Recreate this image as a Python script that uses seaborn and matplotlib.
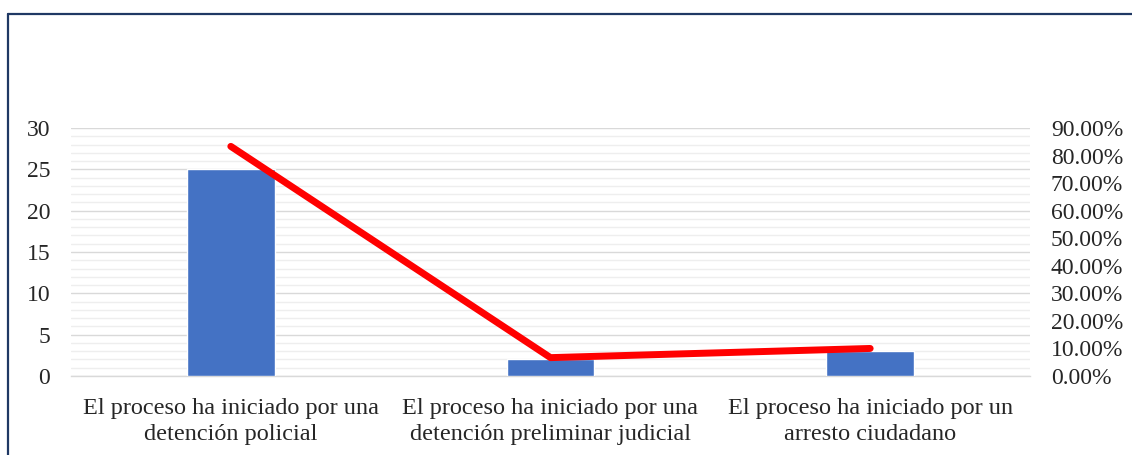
import numpy as np
import pandas as pd
import matplotlib
matplotlib.use("Agg")
import matplotlib.pyplot as plt
import seaborn as sns
from matplotlib.lines import Line2D
from matplotlib.ticker import MultipleLocator, FuncFormatter

categories = [
    "El proceso ha iniciado por una\ndetención policial",
    "El proceso ha iniciado por una\ndetención preliminar judicial",
    "El proceso ha iniciado por un\narresto ciudadano",
]
counts = [25, 2, 3]
percents = [0.8333, 0.0667, 0.10]

left_ticks = [0, 5, 10, 15, 20, 25, 30]
right_ticks = [0.0, 0.1, 0.2, 0.3, 0.4, 0.5, 0.6, 0.7, 0.8, 0.9]


def main():
    sns.set_style("white")
    plt.rcParams["font.family"] = ["Liberation Serif", "DejaVu Serif"]

    df = pd.DataFrame({"cat": categories, "n": counts, "pct": percents})

    fig = plt.figure(figsize=(11.32, 4.55), dpi=100)
    ax = fig.add_axes([0.0627, 0.1736, 0.8472, 0.5451])

    # bars: counts
    sns.barplot(data=df, x="cat", y="n", color="#4472C4", width=0.275,
                saturation=1, ax=ax, zorder=3)
    ax.set_xlim(-0.5, 2.5)
    ax.set_ylim(0, 30)
    ax.set_yticks(left_ticks)
    ax.yaxis.set_minor_locator(MultipleLocator(1))
    ax.grid(which="major", axis="y", color="#d9d9d9", linewidth=1.0, zorder=0)
    ax.grid(which="minor", axis="y", color="#eeeeee", linewidth=1.0, zorder=0)
    ax.set_axisbelow(True)
    ax.set_xlabel("")
    ax.set_ylabel("")
    for s in ["top", "right", "left"]:
        ax.spines[s].set_visible(False)
    ax.spines["bottom"].set_color("#d9d9d9")
    ax.spines["bottom"].set_linewidth(1.0)
    ax.set_xticks([-0.5, 0.5, 1.5, 2.5], minor=True)
    ax.tick_params(axis="x", which="major", length=0, pad=16, labelsize=17.5)
    ax.tick_params(axis="x", which="minor", length=5, color="#d9d9d9", width=1)
    ax.tick_params(axis="y", which="both", length=0, pad=15, labelsize=17)
    for lbl in ax.get_xticklabels():
        lbl.set_linespacing(1.3)

    # line: percentages on secondary axis
    ax2 = ax.twinx()
    sns.lineplot(x=np.arange(len(percents)), y=percents, color="#ff0000",
                 linewidth=5, sort=False, ax=ax2, solid_capstyle="round", zorder=4)
    ax2.set_ylim(0, 0.9)
    ax2.set_yticks(right_ticks)
    ax2.yaxis.set_major_formatter(FuncFormatter(lambda v, p: f"{v * 100:.2f}%"))
    ax2.tick_params(axis="y", length=0, pad=15, labelsize=17)
    ax2.grid(False)
    for s in ax2.spines.values():
        s.set_visible(False)
    ax2.set_xlim(-0.5, 2.5)

    # partial frame like the source document
    fig.add_artist(Line2D([8 / 1132, 1.0], [1 - 14 / 455] * 2,
                          color="#1f3864", linewidth=1.6, transform=fig.transFigure))
    fig.add_artist(Line2D([8 / 1132] * 2, [0, 1 - 14 / 455],
                          color="#1f3864", linewidth=1.6, transform=fig.transFigure))

    fig.savefig("out.png", dpi=100)
    plt.close(fig)


if __name__ == "__main__":
    main()
